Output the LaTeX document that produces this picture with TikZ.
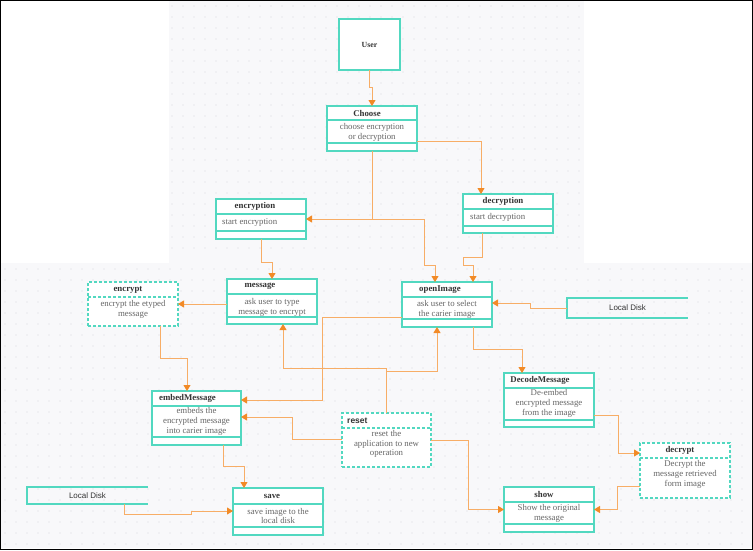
\documentclass[tikz,border=0pt]{standalone}
\usepackage{fontspec}
\setmainfont{Liberation Serif}
\setsansfont{Liberation Sans}
\usetikzlibrary{arrows.meta}

\definecolor{boxline}{HTML}{52D8C0}
\definecolor{wire}{HTML}{F7AD66}
\definecolor{wiretip}{HTML}{F28A26}
\definecolor{titletxt}{HTML}{333333}
\definecolor{bodytxt}{HTML}{666666}
\definecolor{canvas}{HTML}{F8F8FA}
\definecolor{dotc}{HTML}{D6D6DE}

% class box with a title row and an empty bottom row
\newcommand\umlbox[6]{%
  \node[box, minimum width=#3pt, minimum height=#4pt] (#1) at (#2) {};
  \draw[sep] ([yshift=-#5pt]#1.north west) -- ([yshift=-#5pt]#1.north east);
  \draw[sep] ([yshift=#6pt]#1.south west) -- ([yshift=#6pt]#1.south east);
}
% dashed box with a title row only
\newcommand\dashedclass[5]{%
  \node[box, dashbd, minimum width=#3pt, minimum height=#4pt] (#1) at (#2) {};
  \draw[sep, dashbd] ([yshift=-#5pt]#1.north west) -- ([yshift=-#5pt]#1.north east);
}
% storage box, open on its right side
\newcommand\diskbox[4]{%
  \node[inner sep=0pt, outer sep=0pt, anchor=north west, minimum width=#3pt, minimum height=#4pt,
        font=\sffamily\fontsize{8}{9}\selectfont, text=titletxt] (#1) at (#2) {Local Disk};
  \draw[sep] (#1.north east) -- (#1.north west) -- (#1.south west) -- (#1.south east);
}

\begin{document}
\begin{tikzpicture}[x=1pt,y=-1pt,
  box/.style={draw=boxline, line width=1.1pt, fill=white, inner sep=0pt, outer sep=0pt, anchor=north west},
  dashbd/.style={dash pattern=on 3pt off 2pt},
  sep/.style={draw=boxline, line width=1.1pt},
  ttl/.style={font=\bfseries\fontsize{8.8}{10}\selectfont, text=titletxt, inner sep=0pt},
  bdy/.style={font=\fontsize{8.8}{9.8}\selectfont, text=bodytxt, align=center, inner sep=0pt},
  conn/.style={draw=wire, line width=1pt, -{Triangle[length=6pt,width=7pt,color=wiretip]}}]

% canvas
\useasboundingbox (0,0) rectangle (753,550);
\fill[white] (0,0) rectangle (753,550);
\fill[canvas] (169,1) rectangle (584,263);
\fill[canvas] (1,263) rectangle (752,548);
\foreach \x in {172,183,...,580} \foreach \y in {6,17,...,258}
  \fill[dotc] (\x,\y) circle[radius=0.55pt];
\foreach \x in {5,16,...,748} \foreach \y in {269,280,...,545}
  \fill[dotc] (\x,\y) circle[radius=0.55pt];
\draw[black, line width=1pt] (0.5,0.5) rectangle (752.5,549);

% boxes
\node[box, minimum width=61pt, minimum height=51pt] (user) at (339,19) {};
\node[ttl, font=\bfseries\fontsize{7.8}{9}\selectfont] at (user.center) {User};

\umlbox{choose}{327,106}{90}{45}{14}{8}
\node[ttl] at ([xshift=-5pt,yshift=-7pt]choose.north) {Choose};
\node[bdy] at ([yshift=-26.5pt]choose.north) {choose encryption\\or decryption};

\umlbox{encryption}{216,199}{90}{40}{15}{8}
\node[ttl] at ([xshift=-6pt,yshift=-7.5pt]encryption.north) {encryption};
\node[bdy, anchor=west] at ([xshift=6pt,yshift=-24pt]encryption.north west) {start encryption};

\umlbox{decryption}{463,194}{90}{39}{15}{7}
\node[ttl] at ([xshift=-5pt,yshift=-7.5pt]decryption.north) {decryption};
\node[bdy, anchor=west] at ([xshift=7pt,yshift=-23.5pt]decryption.north west) {start decryption};

\umlbox{message}{227,279}{90}{45}{15}{7}
\node[ttl] at ([xshift=-12pt,yshift=-7.5pt]message.north) {message};
\node[bdy] at ([yshift=-28pt]message.north) {ask user to type\\message to encrypt};

\umlbox{openimage}{402,282}{90}{45}{15}{8}
\node[ttl] at ([xshift=-7pt,yshift=-7.5pt]openimage.north) {openImage};
\node[bdy] at ([yshift=-27.5pt]openimage.north) {ask user to select\\the carier image};

\dashedclass{encrypt}{88,282}{90}{44}{15}
\node[ttl] at ([xshift=-5pt,yshift=-7.5pt]encrypt.north) {encrypt};
\node[bdy] at ([yshift=-27.5pt]encrypt.north) {encrypt the etyped\\message};

\umlbox{embed}{152,391}{89}{54}{15}{8}
\node[ttl] at ([xshift=-9pt,yshift=-7.5pt]embed.north) {embedMessage};
\node[bdy] at ([yshift=-30.5pt]embed.north) {embeds the\\encrypted message\\into carier image};

\dashedclass{reset}{342,413}{89}{54}{15}
\node[ttl, font=\sffamily\bfseries\fontsize{8.5}{10}\selectfont, anchor=west] at ([xshift=5pt,yshift=-7.5pt]reset.north west) {reset};
\node[bdy] at ([yshift=-31pt]reset.north) {reset the\\application to new\\operation};

\umlbox{decode}{504,373}{90}{54}{15}{7}
\node[ttl] at ([xshift=-9pt,yshift=-7.5pt]decode.north) {DecodeMessage};
\node[bdy] at ([yshift=-30.5pt]decode.north) {De-embed\\encrypted message\\from the image};

\dashedclass{decrypt}{640,443}{90}{55}{15}
\node[ttl] at ([xshift=-5pt,yshift=-7.5pt]decrypt.north) {decrypt};
\node[bdy] at ([yshift=-31.5pt]decrypt.north) {Decrypt the\\message retrieved\\form image};

\umlbox{show}{504,487}{90}{45}{15}{8}
\node[ttl] at ([xshift=-5pt,yshift=-7.5pt]show.north) {show};
\node[bdy] at ([yshift=-26.5pt]show.north) {Show the original\\message};

\umlbox{save}{233,488}{90}{47}{16}{8}
\node[ttl] at ([xshift=-6pt,yshift=-8pt]save.north) {save};
\node[bdy] at ([yshift=-28pt]save.north) {save image to the\\local disk};

\diskbox{diskR}{567,298}{121}{20}
\diskbox{diskL}{27,487}{121}{17}

% connectors
\draw[conn] (user.south) |- (372,87) -- (choose.north);
\draw[conn] (choose.south) |- (encryption.east);
\draw[conn] (choose.south) |- (424,219) |- (435,265) -- (openimage.north -| 435,0);
\draw[conn] (choose.east |- 0,141) -| (decryption.north -| 481,0);
\draw[conn] (decryption.south -| 482,0) |- (463,257) |- (473,265) -- (openimage.north -| 473,0);
\draw[conn] (encryption.south -| 261,0) |- (272,262) -- (message.north);
\draw[conn] (message.west |- encrypt.east) -- (encrypt.east);
\draw[conn] (diskR.west) -| (530,303) -- (openimage.east |- 0,303);
\draw[conn] (encrypt.south -| 160,0) |- (187,358) -- (embed.north -| 187,0);
\draw[conn] (openimage.west |- 0,317) -| (322,400) -- (embed.east |- 0,400);
\draw[conn] (reset.west |- 0,439) -| (292,417) -- (embed.east |- 0,417);
\draw[conn] (reset.north) |- (283,368) -- (message.south -| 283,0);
\draw[conn] (reset.north) |- (437,371) -- (openimage.south -| 437,0);
\draw[conn] (openimage.south -| 473,0) |- (522,349) -- (decode.north -| 522,0);
\draw[conn] (decode.east |- 0,415) -| (618,453) -- (decrypt.west |- 0,453);
\draw[conn] (decrypt.west |- 0,486) -| (617,509.5) -- (show.east);
\draw[conn] (reset.east |- 0,440) -| (468,509.5) -- (show.west);
\draw[conn] (embed.south -| 223,0) |- (244,466) -- (save.north -| 244,0);
\draw[conn] (diskL.south -| 124,0) |- (191,514) |- (save.west |- 0,511);
\end{tikzpicture}
\end{document}
